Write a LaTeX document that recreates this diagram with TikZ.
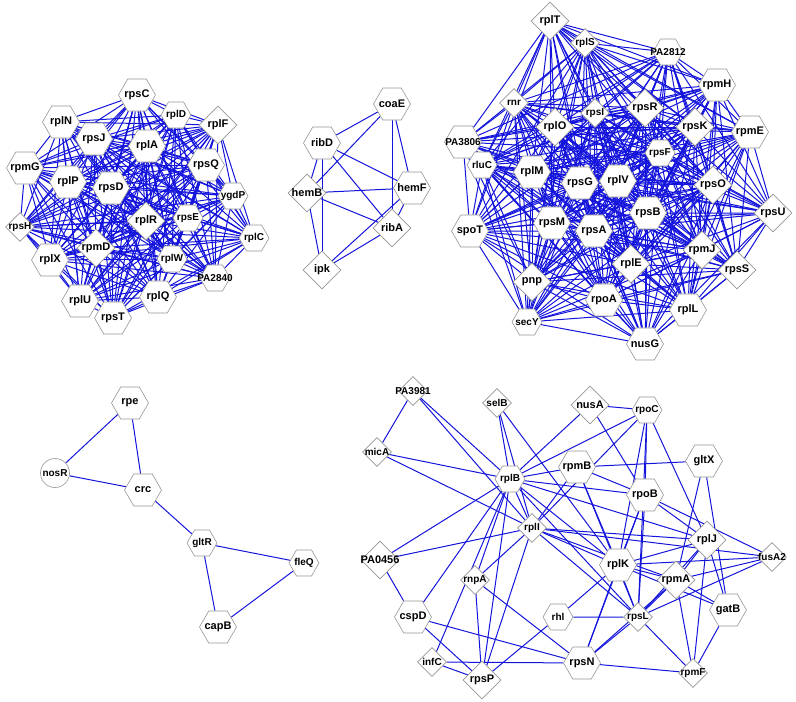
\documentclass[tikz,border=0pt]{standalone}
\usepackage{fontspec}
\setmainfont{Liberation Sans}
\usetikzlibrary{shapes.geometric,backgrounds}
\definecolor{edgeblue}{RGB}{20,20,220}
\definecolor{nodegray}{RGB}{150,150,150}
\newcommand\zw[1]{\makebox[0pt]{#1}}
\tikzset{
  base/.style={draw=nodegray,fill=white,line width=0.6pt,inner sep=0pt,
    font=\bfseries\fontsize{11}{11}\selectfont},
  small/.style={font=\bfseries\fontsize{10}{10}\selectfont},
  hexL/.style={base,regular polygon,regular polygon sides=6,minimum size=37pt},
  hexS/.style={base,small,regular polygon,regular polygon sides=6,minimum size=30pt},
  diaL/.style={base,diamond,minimum width=38pt,minimum height=38pt},
  diaS/.style={base,small,diamond,minimum width=29pt,minimum height=29pt},
  circ/.style={base,circle,minimum size=29pt,font=\bfseries\fontsize{10}{10}\selectfont},
  edge/.style={draw=edgeblue,line width=1pt},
}
\begin{document}
\begin{tikzpicture}[x=1pt,y=-1pt]
\useasboundingbox (0,0) rectangle (796,702);
% ---------- top-left cluster
\node[hexL] (rpsC) at (137,95) {\zw{rpsC}};
\node[hexS] (rplD) at (176,115) {\zw{rplD}};
\node[diaL] (rplF) at (218,125) {\zw{rplF}};
\node[hexL] (rplN) at (61,122) {\zw{rplN}};
\node[hexL] (rpsJ) at (94,139) {\zw{rpsJ}};
\node[hexL] (rplA) at (147,146) {\zw{rplA}};
\node[hexL] (rpsQ) at (206,165) {\zw{rpsQ}};
\node[hexL] (rpmG) at (25,168) {\zw{rpmG}};
\node[hexL] (rplP) at (68,182) {\zw{rplP}};
\node[hexL] (rpsD) at (111,188) {\zw{rpsD}};
\node[hexS] (ygdP) at (233,196) {\zw{ygdP}};
\node[hexS] (rpsE) at (188,218) {\zw{rpsE}};
\node[diaL] (rplR) at (146,221) {\zw{rplR}};
\node[diaS] (rpsH) at (20,227) {\zw{rpsH}};
\node[hexS] (rplC) at (254,238) {\zw{rplC}};
\node[diaL] (rpmD) at (96,248) {\zw{rpmD}};
\node[hexS] (rplW) at (172,259) {\zw{rplW}};
\node[hexL] (rplX) at (50,260) {\zw{rplX}};
\node[hexS] (PA2840) at (215,278) {\zw{PA2840}};
\node[hexL] (rplU) at (80,301) {\zw{rplU}};
\node[hexL] (rplQ) at (158,297) {\zw{rplQ}};
\node[hexL] (rpsT) at (113,318) {\zw{rpsT}};
% ---------- top-middle cluster
\node[hexL] (coaE) at (392,104) {\zw{coaE}};
\node[hexL] (ribD) at (322,143) {\zw{ribD}};
\node[diaL] (hemB) at (307,193) {\zw{hemB}};
\node[hexL] (hemF) at (412,188) {\zw{hemF}};
\node[diaL] (ribA) at (392,228) {\zw{ribA}};
\node[diaL] (ipk) at (322,270) {\zw{ipk}};
% ---------- top-right cluster
\node[diaL] (rplT) at (550,21) {\zw{rplT}};
\node[diaS] (rplS) at (585,43) {\zw{rplS}};
\node[hexS] (PA2812) at (668,52) {\zw{PA2812}};
\node[hexL] (rpmH) at (717,85) {\zw{rpmH}};
\node[diaS] (rnr) at (514,103) {\zw{rnr}};
\node[diaS] (rpsI) at (595,113) {\zw{rpsI}};
\node[diaL] (rpsR) at (645,108) {\zw{rpsR}};
\node[diaL] (rplO) at (555,127) {\zw{rplO}};
\node[diaL] (rpsK) at (695,127) {\zw{rpsK}};
\node[hexL] (rpmE) at (750,132) {\zw{rpmE}};
\node[hexL,small] (PA3806) at (463,142) {\zw{PA3806}};
\node[hexS] (rpsF) at (660,153) {\zw{rpsF}};
\node[hexS] (rluC) at (482,165) {\zw{rluC}};
\node[hexL] (rplM) at (532,172) {\zw{rplM}};
\node[hexL] (rpsG) at (580,183) {\zw{rpsG}};
\node[hexL] (rplV) at (618,181) {\zw{rplV}};
\node[diaL] (rpsO) at (713,185) {\zw{rpsO}};
\node[hexL] (spoT) at (470,231) {\zw{spoT}};
\node[hexL] (rpsM) at (552,223) {\zw{rpsM}};
\node[hexL] (rpsA) at (594,231) {\zw{rpsA}};
\node[hexL] (rpsB) at (648,213) {\zw{rpsB}};
\node[diaL] (rpsU) at (773,213) {\zw{rpsU}};
\node[diaL] (rpmJ) at (702,250) {\zw{rpmJ}};
\node[diaL] (rplE) at (631,264) {\zw{rplE}};
\node[diaL] (rpsS) at (737,270) {\zw{rpsS}};
\node[diaL] (pnp) at (532,282) {\zw{pnp}};
\node[hexL] (rpoA) at (604,300) {\zw{rpoA}};
\node[hexL] (rplL) at (688,310) {\zw{rplL}};
\node[hexS] (secY) at (527,322) {\zw{secY}};
\node[hexL] (nusG) at (645,344) {\zw{nusG}};
% ---------- bottom-left cluster
\node[hexL] (rpe) at (130,403) {\zw{rpe}};
\node[circ] (nosR) at (55,473) {\zw{nosR}};
\node[hexL] (crc) at (143,490) {\zw{crc}};
\node[hexS] (gltR) at (202,543) {\zw{gltR}};
\node[hexS] (fleQ) at (304,563) {\zw{fleQ}};
\node[hexL] (capB) at (218,627) {\zw{capB}};
% ---------- bottom-right cluster
\node[diaS] (selB) at (497,403) {\zw{selB}};
\node[diaL] (nusA) at (590,405) {\zw{nusA}};
\node[diaS] (PA3981) at (413,391) {\zw{PA3981}};
\node[hexS] (rpoC) at (647,410) {\zw{rpoC}};
\node[diaS] (micA) at (377,452) {\zw{micA}};
\node[hexS] (rplB) at (510,479) {\zw{rplB}};
\node[hexL] (rpmB) at (577,467) {\zw{rpmB}};
\node[hexL] (gltX) at (704,461) {\zw{gltX}};
\node[hexL] (rpoB) at (645,495) {\zw{rpoB}};
\node[diaS] (rplI) at (532,528) {\zw{rplI}};
\node[diaL] (rplJ) at (707,540) {\zw{rplJ}};
\node[diaS] (fusA2) at (772,557) {\zw{fusA2}};
\node[diaL] (PA0456) at (380,560) {\zw{PA0456}};
\node[hexL] (rplK) at (618,565) {\zw{rplK}};
\node[diaL] (rpmA) at (676,580) {\zw{rpmA}};
\node[diaS] (rnpA) at (475,580) {\zw{rnpA}};
\node[hexL] (gatB) at (728,610) {\zw{gatB}};
\node[hexL] (cspD) at (413,617) {\zw{cspD}};
\node[hexS] (rhl) at (558,617) {\zw{rhl}};
\node[diaS] (rpsL) at (638,617) {\zw{rpsL}};
\node[diaS] (infC) at (432,662) {\zw{infC}};
\node[hexL] (rpsN) at (582,663) {\zw{rpsN}};
\node[diaL] (rpsP) at (482,680) {\zw{rpsP}};
\node[diaS] (rpmF) at (693,673) {\zw{rpmF}};
% ---------- connectors
\begin{scope}[on background layer]
\def\TLlist{rpsC,rplD,rplF,rplN,rpsJ,rplA,rpsQ,rpmG,rplP,rpsD,ygdP,rpsE,rplR,rpsH,rplC,rpmD,rplW,rplX,PA2840,rplU,rplQ,rpsT}
\foreach \a [count=\i] in \TLlist {
  \foreach \b [count=\j] in \TLlist {
    \ifnum\i<\j \draw[edge] (\a) -- (\b); \fi
  }
}
\def\TRlist{rplT,rplS,PA2812,rpmH,rnr,rpsI,rpsR,rplO,rpsK,rpmE,PA3806,rpsF,rluC,rplM,rpsG,rplV,rpsO,spoT,rpsM,rpsA,rpsB,rpsU,rpmJ,rplE,rpsS,pnp,rpoA,rplL,secY,nusG}
\foreach \a [count=\i] in \TRlist {
  \foreach \b [count=\j] in \TRlist {
    \ifnum\i<\j
      \pgfpointdiff{\pgfpointanchor{\a}{center}}{\pgfpointanchor{\b}{center}}%
      \pgfgetlastxy{\tmpdx}{\tmpdy}%
      \pgfmathsetmacro\tmpdd{veclen(\tmpdx,\tmpdy)}%
      \ifdim\tmpdd pt<250pt \draw[edge] (\a) -- (\b); \fi
    \fi
  }
}
\foreach \a/\b in {coaE/ribD,coaE/hemB,coaE/hemF,coaE/ribA,ribD/hemF,ribD/ribA,
  ribD/hemB,ribD/ipk,hemB/hemF,hemB/ribA,hemB/ipk,hemF/ribA,hemF/ipk,ribA/ipk}
  \draw[edge] (\a) -- (\b);
\foreach \a/\b in {rpe/nosR,rpe/crc,nosR/crc,crc/gltR,gltR/fleQ,gltR/capB,fleQ/capB}
  \draw[edge] (\a) -- (\b);
\foreach \a/\b in {PA3981/micA,PA3981/rplB,PA3981/rplI,micA/rplB,micA/rplI,
  selB/rplB,selB/rplI,selB/rplK,nusA/rplB,nusA/rpoC,nusA/rpoB,
  rpoC/rplB,rpoC/rpoB,rpoC/rplK,rpoC/rplJ,rpoC/rpsL,
  gltX/rpmB,gltX/rpmA,gltX/gatB,
  rpmB/rplB,rpmB/rpoB,rpmB/rplK,rpmB/rpsL,rpmB/rplI,
  rplB/rplI,rplB/rpoB,rplB/rplJ,rplB/rplK,rplB/rpsL,rplB/PA0456,rplB/cspD,
  rplB/rnpA,rplB/rpsP,rplB/infC,
  rplI/PA0456,rplI/rnpA,rplI/rpsP,rplI/rplK,rplI/rpsL,rplI/rplJ,rplI/fusA2,
  rplI/rpmA,rplI/rpoC,
  rpoB/rplK,rpoB/rpsL,rpoB/rplJ,rpoB/fusA2,rpoB/rpsN,
  rplJ/rplK,rplJ/rpmA,rplJ/rpsL,rplJ/gatB,rplJ/rpmF,
  fusA2/rplK,fusA2/rpmA,fusA2/rpsL,
  rplK/rpmA,rplK/rpsL,rplK/gatB,rplK/rpsN,rplK/rhl,
  rpmA/rpsL,rpmA/gatB,rpmA/rpsN,rpmA/rpmF,
  rpsL/rpsN,rpsL/rpmF,rpsL/rhl,gatB/rpmF,
  rpsN/rpmF,rpsN/cspD,rpsN/infC,rpsN/rnpA,
  rhl/rpsP,cspD/PA0456,cspD/rpsP,infC/rpsP,rnpA/rpsP}
  \draw[edge] (\a) -- (\b);
\end{scope}
\end{tikzpicture}
\end{document}
